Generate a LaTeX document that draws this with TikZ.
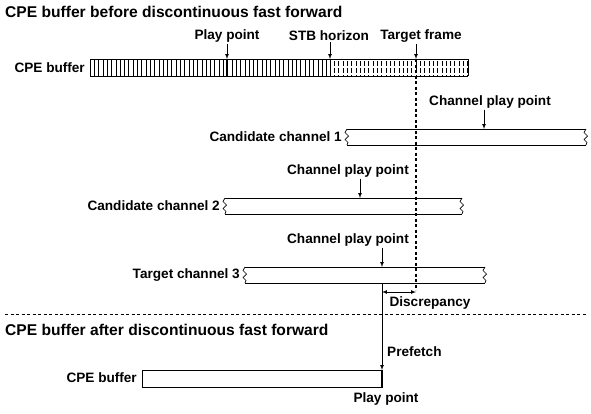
\documentclass[tikz,border=0pt]{standalone}
\usepackage{fontspec}
\setmainfont{Liberation Sans}
\usetikzlibrary{arrows,positioning}
\tikzstyle{arrow} = [->,>=latex,line width=0.7pt]
\tikzstyle{lbl} = [font=\fontsize{13.6}{15}\selectfont\bfseries, inner sep=1pt]
\tikzstyle{heading} = [font=\fontsize{15.6}{17}\selectfont\bfseries, anchor=west, inner sep=0pt]
\tikzstyle{bar} = [line width=0.7pt]
% zigzag end of a channel: x, top, bottom
\newcommand{\zigend}[3]{\draw[bar] (#1,#2) -- (#1-2,#2+3.5) -- (#1+1.5,#2+7) -- (#1-2,#2+10.5) -- (#1+1,#2+13.5) -- (#1,#3);}
% channel bar: left x, right x, top y
\newcommand{\chanbar}[3]{\draw[bar] (#1,#3) -- (#2,#3); \draw[bar] (#1,#3+16) -- (#2,#3+16);
  \zigend{#1}{#3}{#3+16} \zigend{#2}{#3}{#3+16}}

\begin{document}
\begin{tikzpicture}[x=1pt,y=-1pt]
\useasboundingbox (0,0) rectangle (591,413);

% Before
\node (before) [heading] at (5,12) {CPE buffer before discontinuous fast forward};

% CPE buffer with hatching
\node (cpetop) [lbl, anchor=east] at (86,68) {CPE buffer};
\foreach \x in {90,94.3,...,330} \draw[line width=0.5pt] (\x,59) -- (\x,76);
\foreach \x in {334.3,338.6,...,468} \draw[line width=0.5pt, dash pattern=on 4.5pt off 2.5pt, dash phase=-2pt] (\x,59) -- (\x,76);
\draw[bar] (90,59) -- (468,59);
\draw[bar] (90,76) -- (468,76);
\draw[bar] (468,59) -- (468,76);
\draw[line width=1.3pt] (227,59) -- (227,76);
\draw[line width=1pt] (330,59) -- (330,76);

\node (play) [lbl] at (227,36) {Play point};
\node (stb) [lbl] at (329,36) {STB horizon};
\node (target) [lbl] at (421,36) {Target frame};
\coordinate (playc) at (227,59);
\coordinate (stbc) at (330,59);
\coordinate (targetc) at (416,59);
\draw[arrow] (play.south -| playc) -- (playc);
\draw[arrow] (stb.south -| stbc) -- (stbc);
\draw[arrow] (target.south -| targetc) -- (targetc);

% Target frame line
\coordinate (tfend) at (416,290);
\draw[line width=1.1pt, dash pattern=on 3pt off 2.5pt] (targetc) -- (tfend);

% Channels
\chanbar{347}{586}{129}
\chanbar{225}{462}{198}
\chanbar{245}{485}{267}
\node (cand1) [lbl, anchor=east] at (343,137) {Candidate channel 1};
\node (cand2) [lbl, anchor=east] at (221,206) {Candidate channel 2};
\node (targ3) [lbl, anchor=east] at (241,275) {Target channel 3};

\node (cpp1) [lbl] at (490,102) {Channel play point};
\node (cpp2) [lbl] at (348,171) {Channel play point};
\node (cpp3) [lbl] at (348,240) {Channel play point};
\coordinate (ch1) at (484,129);
\coordinate (ch2) at (360,198);
\coordinate (ch3) at (382,267);
\draw[arrow] (cpp1.south -| ch1) -- (ch1);
\draw[arrow] (cpp2.south -| ch2) -- (ch2);
\draw[arrow] (cpp3.south -| ch3) -- (ch3);

% Discrepancy
\coordinate (ch3b) at (382,283);
\coordinate (disl) at (382,292);
\draw[<->,>=latex,line width=0.7pt] (disl) -- (disl -| tfend);
\node (disc) [lbl] at (430,303) {Discrepancy};

% Separator
\coordinate (sepl) at (5,314);
\coordinate (sepr) at (586,314);
\draw[line width=0.8pt, dash pattern=on 3pt off 2.5pt] (sepl) -- (sepr);

% After
\node (after) [heading] at (5,330) {CPE buffer after discontinuous fast forward};
\node (cpebot) [lbl, anchor=east] at (138,378) {CPE buffer};
\draw[bar] (142,370) rectangle (382,387);
\draw[line width=1.3pt] (382,370) -- (382,387);
\coordinate (newpp) at (382,370);
\draw[arrow] (ch3b) -- (newpp);
\node (prefetch) [lbl, anchor=west] at (386,352) {Prefetch};
\node (playb) [lbl] at (386,399) {Play point};
\end{tikzpicture}
\end{document}
